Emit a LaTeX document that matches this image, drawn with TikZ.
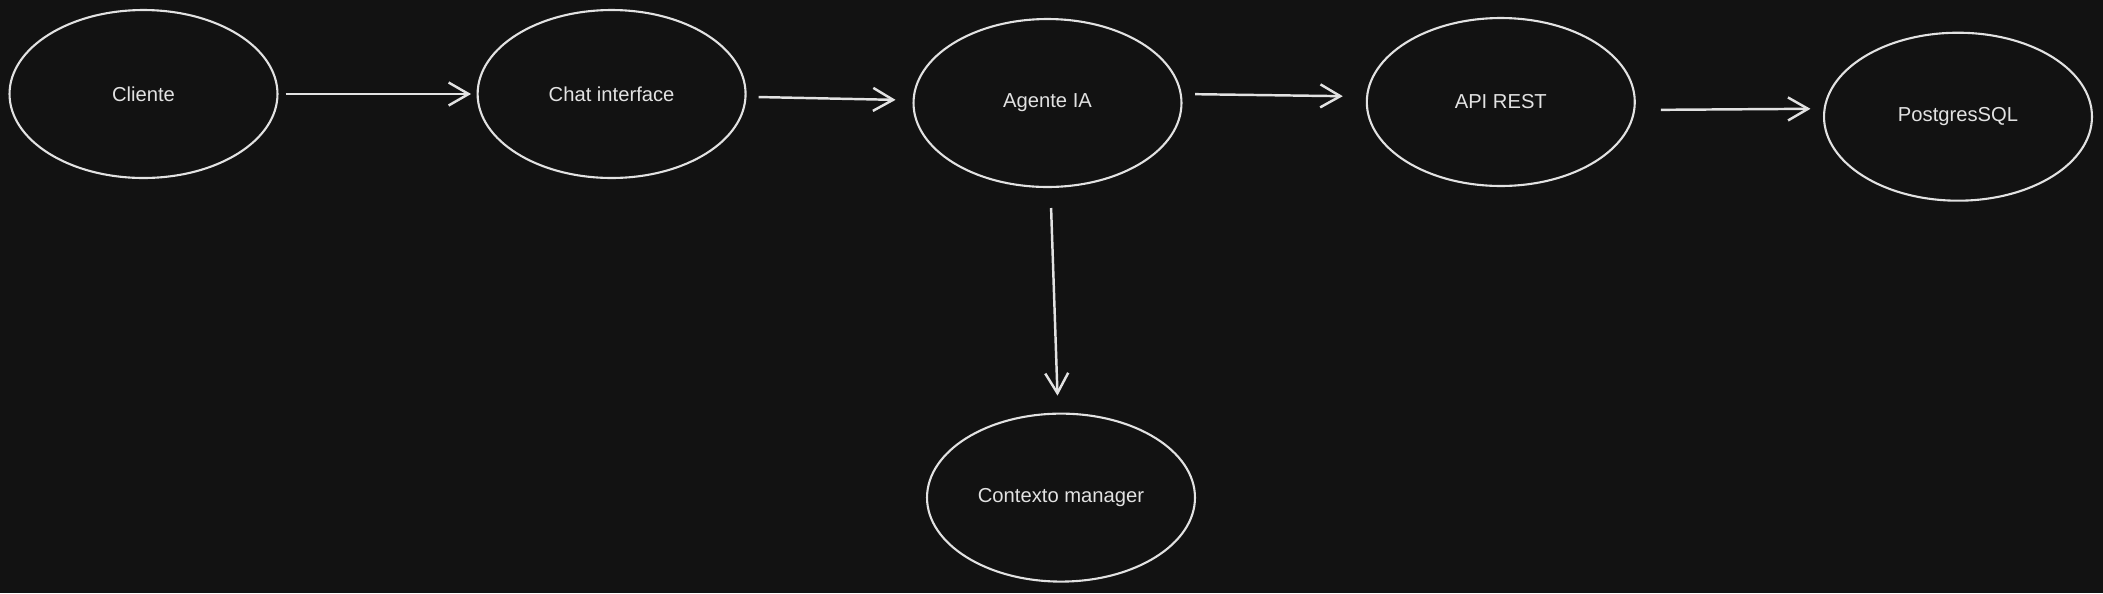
\documentclass[tikz,border=0pt]{standalone}
\usepackage{fontspec}
\setmainfont{Liberation Sans}
\usetikzlibrary{arrows.meta, shapes.geometric}
\definecolor{bgDark}{HTML}{121212}
\definecolor{inkLight}{HTML}{E2E2E2}

\begin{document}
\begin{tikzpicture}[x=0.02cm, y=-0.02cm,
      >={Straight Barb[length=4mm, width=4.6mm]},
      blob/.style={ellipse, draw=inkLight, line width=1.2pt, minimum width=5.36cm, minimum height=3.36cm,
        inner sep=0pt, text=inkLight, font=\fontsize{11.5}{14}\selectfont},
      link/.style={->, draw=inkLight, line width=1.4pt}]
    % canvas
    \fill[bgDark] (0,0) rectangle (2103,593);
    \useasboundingbox (0,0) rectangle (2103,593);
    % nodes
    \node[blob] (cli) at (143.5, 94)  {Cliente};
    \node[blob] (chat) at (611.6, 94) {Chat interface};
    \node[blob] (ag) at (1047.5, 103) {Agente IA};
    \node[blob] (api) at (1500.8, 102) {API REST};
    \node[blob] (pg) at (1958, 116.7) {PostgresSQL};
    \node[blob] (ctx) at (1061, 497.6) {Contexto manager};
    % main row
    \draw[link, shorten <=0.14cm, shorten >=0.11cm] (cli) -- (chat);
    \draw[link, shorten <=0.24cm, shorten >=0.34cm] (chat) -- (ag);
    \draw[link, shorten <=0.25cm, shorten >=0.46cm] ([yshift=0.18cm]ag.east) -- ([yshift=0.11cm]api.west);
    \draw[link, shorten <=0.5cm, shorten >=0.25cm] ([yshift=-0.16cm]api.east) -- ([yshift=0.16cm]pg.west);
    % down to context
    \draw[link, shorten <=0.4cm, shorten >=0.34cm] (ag) -- (ctx);
  \end{tikzpicture}
\end{document}
